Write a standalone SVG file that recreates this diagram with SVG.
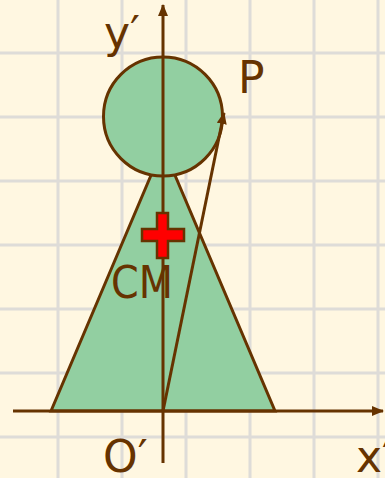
<svg xmlns="http://www.w3.org/2000/svg" width="385" height="478" viewBox="0 0 385 478">
<defs>
<style>
.grid{stroke:#dedcd8;stroke-width:3;fill:none}
.ln{stroke:#663300;stroke-width:3;fill:none}
.shape{fill:#92cfa1;stroke:#663300;stroke-width:3}
.lbl{font-family:"DejaVu Sans",sans-serif;font-size:44px;fill:#663300}
</style>
<marker id="arr" markerWidth="12" markerHeight="10" refX="11" refY="5" orient="auto" markerUnits="userSpaceOnUse">
<path d="M0,0 L12,5 L0,10 Z" fill="#663300"/>
</marker>
</defs>
<rect width="385" height="478" fill="#fff7e1"/>
<g id="grid" class="grid">
<path d="M58,0V478M122,0V478M186,0V478M250,0V478M314,0V478M378,0V478"/>
<path d="M0,53H385M0,117H385M0,181H385M0,245H385M0,309H385M0,373H385M0,437H385"/>
</g>
<g id="triangle"><polygon class="shape" points="51,411 163,147 275,411"/></g>
<g id="circle"><circle class="shape" cx="163" cy="116.5" r="59.5"/></g>
<g id="connectors">
<line class="ln" x1="163" y1="463" x2="163" y2="5" marker-end="url(#arr)"/>
<line class="ln" x1="13" y1="411" x2="383" y2="411" marker-end="url(#arr)"/>
<line class="ln" x1="163" y1="411" x2="224" y2="113" marker-end="url(#arr)"/>
</g>
<g id="cm">
<path d="M157,213H168V229H184V241H168V258H157V241H142V229H157Z" fill="#ff0000" stroke="#663300" stroke-width="2.5"/>
</g>
<g id="labels" class="lbl">
<text x="104" y="48">y′</text>
<text x="238" y="93">P</text>
<text x="111" y="298" textLength="62" lengthAdjust="spacingAndGlyphs">CM</text>
<text x="103" y="472">O′</text>
<text x="356" y="472">x′</text>
</g>
</svg>
